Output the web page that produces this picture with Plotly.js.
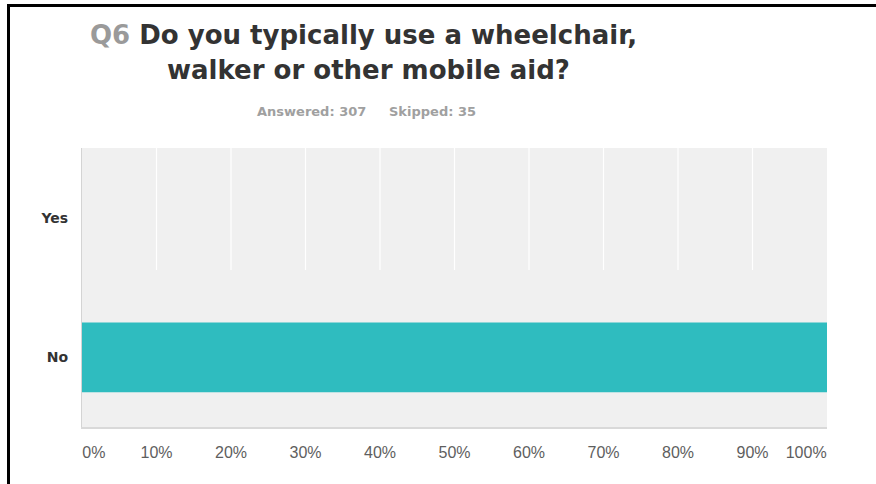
<!DOCTYPE html>
<html>
<head>
<meta charset="utf-8">
<script src="https://cdn.plot.ly/plotly-3.0.1.min.js"></script>
<style>
  html, body { margin: 0; padding: 0; background: #fff; overflow: hidden; }
  #wrap { position: relative; width: 876px; height: 484px; }
  #chart { position: absolute; left: 0; top: 0; width: 876px; height: 484px; }
  #frame { position: absolute; left: 7px; top: 4px; width: 900px; height: 500px;
           border-left: 3px solid #000; border-top: 3px solid #000; pointer-events: none; }
</style>
</head>
<body>
<div id="wrap">
  <div id="chart"></div>
  <div id="frame"></div>
</div>
<script>
// ---- data ----
const questionNo = "Q6";
const titleLine1 = "Do you typically use a wheelchair,";
const titleLine2 = "walker or other mobile aid?";
const answeredText = "Answered: 307";
const skippedText = "Skipped: 35";
const categories = ["Yes", "No"];
const percentValues = [0, 100];
const xTickValues = [0, 10, 20, 30, 40, 50, 60, 70, 80, 90, 100];
const xTickLabels = ["0%", "10%", "20%", "30%", "40%", "50%", "60%", "70%", "80%", "90%", "100%"];

// ---- layout geometry (pixels) ----
const W = 876, H = 484;
const plotL = 82, plotR = 827, plotT = 148, plotB = 427;
const px2x = p => (p - plotL) / (plotR - plotL);
const px2y = p => (plotB - p) / (plotB - plotT);

// end labels are nudged inward so they stay inside the plot width
const labelPositions = xTickValues.map((v, i) =>
  i === 0 ? v + 1.6 : (i === xTickValues.length - 1 ? v - 2.8 : v));

const gridShapes = xTickValues.slice(1, -1).map(v => ({
  type: 'line', layer: 'below', xref: 'x', yref: 'paper',
  x0: v, x1: v, y0: px2y(270), y1: 1,
  line: { color: '#ffffff', width: 1.2 }
}));

const barTrace = {
  type: 'bar',
  orientation: 'h',
  x: percentValues,
  y: categories,
  width: 0.5,
  marker: { color: '#2fbcbf', line: { width: 0 } },
  hoverinfo: 'skip',
  showlegend: false
};

// empty trace that only carries the label axis
const labelAxisTrace = {
  type: 'scatter', mode: 'markers',
  x: [null], y: [categories[0]],
  xaxis: 'x2', yaxis: 'y',
  hoverinfo: 'skip', showlegend: false
};

const layout = {
  width: W, height: H,
  margin: { l: plotL, r: W - plotR, t: plotT, b: H - plotB, pad: 0 },
  paper_bgcolor: '#ffffff',
  plot_bgcolor: '#f0f0f0',
  showlegend: false,
  title: {
    text: "<span style='color:#9a9a9a'>" + questionNo + "</span> " + titleLine1,
    font: { family: 'DejaVu Sans', size: 26, color: '#333333', weight: 'bold' },
    xref: 'container', yref: 'container',
    x: 90 / W, xanchor: 'left',
    y: 1 - 35 / H, yanchor: 'middle'
  },
  xaxis: {
    range: [0, 100],
    tickvals: xTickValues,
    showticklabels: false,
    showgrid: false,
    zeroline: false,
    showline: true, linecolor: '#d9d9d9', linewidth: 2,
    ticks: '', fixedrange: true
  },
  xaxis2: {
    overlaying: 'x', anchor: 'y', side: 'bottom',
    range: [0, 100],
    tickmode: 'array',
    tickvals: labelPositions,
    ticktext: xTickLabels,
    showgrid: false, zeroline: false, showline: false,
    ticks: '',
    ticklabelstandoff: 14,
    tickfont: { family: 'Liberation Sans', size: 16, color: '#5e5e5e' },
    fixedrange: true
  },
  yaxis: {
    type: 'category',
    categoryorder: 'array',
    categoryarray: categories,
    autorange: 'reversed',
    range: [1.5, -0.5],
    showgrid: false, zeroline: false,
    showline: true, linecolor: '#d4d4d4', linewidth: 1,
    ticks: '',
    ticklabelstandoff: 10,
    tickfont: { family: 'DejaVu Sans', size: 14, color: '#333333', weight: 'bold' },
    fixedrange: true
  },
  shapes: gridShapes,
  annotations: [
    {
      text: titleLine2, showarrow: false,
      xref: 'paper', yref: 'paper',
      x: px2x(165), xanchor: 'left',
      y: px2y(70), yanchor: 'middle',
      font: { family: 'DejaVu Sans', size: 26, color: '#333333', weight: 'bold' }
    },
    {
      text: answeredText, showarrow: false,
      xref: 'paper', yref: 'paper',
      x: px2x(255), xanchor: 'left',
      y: px2y(111), yanchor: 'middle',
      font: { family: 'DejaVu Sans', size: 13, color: '#a0a0a0', weight: 'bold' }
    },
    {
      text: skippedText, showarrow: false,
      xref: 'paper', yref: 'paper',
      x: px2x(478), xanchor: 'right',
      y: px2y(111), yanchor: 'middle',
      font: { family: 'DejaVu Sans', size: 13, color: '#a0a0a0', weight: 'bold' }
    }
  ]
};

Plotly.newPlot('chart', [barTrace, labelAxisTrace], layout, { staticPlot: true, displayModeBar: false });
</script>
</body>
</html>
